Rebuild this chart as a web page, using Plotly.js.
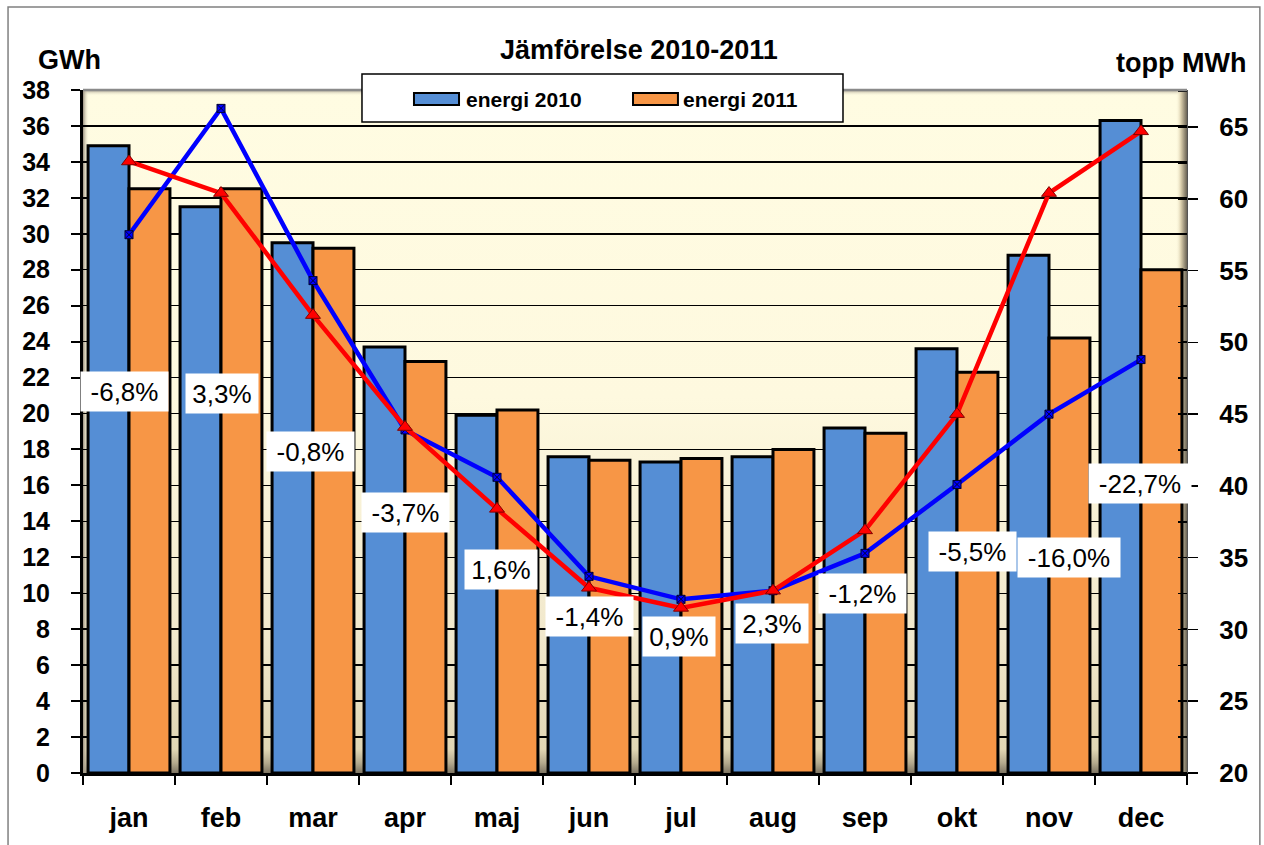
<!DOCTYPE html>
<html>
<head>
<meta charset="utf-8">
<script src="https://cdn.plot.ly/plotly-3.0.1.min.js"></script>
<style>html,body{margin:0;padding:0;background:#fff;}#chart{width:1264px;height:845px;}</style>
</head>
<body>
<div id="chart"></div>
<script>
// ---- data ----
const months = ["jan","feb","mar","apr","maj","jun","jul","aug","sep","okt","nov","dec"];
const energi2010 = [34.9, 31.5, 29.5, 23.7, 19.9, 17.6, 17.3, 17.6, 19.2, 23.6, 28.8, 36.3];
const energi2011 = [32.5, 32.5, 29.2, 22.9, 20.2, 17.4, 17.5, 18.0, 18.9, 22.3, 24.2, 28.0];
const topp2010 = [57.5, 66.3, 54.3, 43.9, 40.6, 33.7, 32.1, 32.7, 35.3, 40.1, 45.0, 48.8];
const topp2011 = [62.6, 60.4, 51.9, 44.1, 38.4, 32.9, 31.5, 32.7, 36.9, 45.0, 60.4, 64.7];
const changeLabels = ["-6,8%","3,3%","-0,8%","-3,7%","1,6%","-1,4%","0,9%","2,3%","-1,2%","-5,5%","-16,0%","-22,7%"];
// label placement (layout only)
const labelY = [21.2, 21.1, 17.9, 14.5, 11.3, 8.7, 7.6, 8.3, 10.0, 12.3, 12.0, 16.1];
const labelXShift = [-5, 1, -3, 0, 4, 0, -2, -1, -3, 15, 20, -1];

const FONT = "Liberation Sans, Arial, Helvetica, sans-serif";

const svg = "<svg xmlns='http://www.w3.org/2000/svg' width='1104' height='683' viewBox='0 0 1104 683' preserveAspectRatio='none'>" +
  "<defs>" +
  "<linearGradient id='v' x1='0' y1='0' x2='0' y2='1'>" +
  "<stop offset='0' stop-color='#FFFCE2'/><stop offset='0.45' stop-color='#FEF9DF'/>" +
  "<stop offset='0.8' stop-color='#F1E8CC'/><stop offset='0.965' stop-color='#E1D6B4'/>" +
  "<stop offset='0.985' stop-color='#B5AA8E'/><stop offset='1' stop-color='#7E7563'/></linearGradient>" +
  "<linearGradient id='r' x1='0' y1='0' x2='1' y2='0'>" +
  "<stop offset='0' stop-color='#FDF8DE' stop-opacity='0'/><stop offset='0.45' stop-color='#D9CDAB'/><stop offset='1' stop-color='#6A6355'/></linearGradient>" +
  "<linearGradient id='l' x1='0' y1='0' x2='1' y2='0'>" +
  "<stop offset='0' stop-color='#9A9080'/><stop offset='1' stop-color='#FDF8DE' stop-opacity='0'/></linearGradient>" +
  "<linearGradient id='t' x1='0' y1='0' x2='0' y2='1'>" +
  "<stop offset='0' stop-color='#A8A090'/><stop offset='1' stop-color='#FFFCE2' stop-opacity='0'/></linearGradient>" +
  "</defs>" +
  "<rect width='1104' height='683' fill='url(#v)'/>" +
  "<rect x='0' y='0' width='1104' height='6' fill='url(#t)'/>" +
  "<rect x='1093' y='0' width='11' height='683' fill='url(#r)'/>" +
  "<rect x='0' y='0' width='6' height='683' fill='url(#l)'/>" +
  "</svg>";
const bgURI = "data:image/svg+xml;charset=utf-8," + encodeURIComponent(svg);

const traces = [
  {type:"bar", name:"energi 2010", x:months, y:energi2010,
   marker:{color:"#558ED5", line:{color:"#000", width:3}}, hoverinfo:"y"},
  {type:"bar", name:"energi 2011", x:months, y:energi2011,
   marker:{color:"#F79646", line:{color:"#000", width:3}}, hoverinfo:"y"},
  {type:"scatter", mode:"lines+markers", name:"topp 2010", x:months, y:topp2010, yaxis:"y2",
   line:{color:"#0000FF", width:4.5},
   marker:{symbol:"square-x", size:8, color:"#0000FF", line:{color:"#000033", width:1}}},
  {type:"scatter", mode:"lines+markers", name:"topp 2011", x:months, y:topp2011, yaxis:"y2",
   line:{color:"#FF0000", width:4.5},
   marker:{symbol:"triangle-up", size:13, color:"#FF0000", line:{color:"#800000", width:1}}}
];

const annotations = changeLabels.map((t, i) => ({
  xref:"x", yref:"y", x:months[i], y:labelY[i], xshift:labelXShift[i],
  text:t, showarrow:false, bgcolor:"#FFFFFF", borderpad:0,
  width: 15*t.length + 12, height:39,
  font:{family:FONT, size:26, color:"#000"}
}));

// axis unit titles
annotations.push({xref:"paper", yref:"paper", x:-0.0118, y:1.044, text:"GWh", showarrow:false,
  xanchor:"center", yanchor:"middle", font:{family:FONT, size:27, color:"#000", weight:"bold"}});
annotations.push({xref:"paper", yref:"paper", x:0.9946, y:1.0395, text:"topp MWh", showarrow:false,
  xanchor:"center", yanchor:"middle", font:{family:FONT, size:27, color:"#000", weight:"bold"}});
// custom legend text
annotations.push({xref:"paper", yref:"paper", x:0.3455, y:0.9868, text:traces[0].name, showarrow:false,
  xanchor:"left", yanchor:"middle", font:{family:FONT, size:21, color:"#000", weight:"bold"}});
annotations.push({xref:"paper", yref:"paper", x:0.5415, y:0.9868, text:traces[1].name, showarrow:false,
  xanchor:"left", yanchor:"middle", font:{family:FONT, size:21, color:"#000", weight:"bold"}});

const shapes = [
  // outer frame
  {type:"rect", xref:"paper", yref:"paper", x0:-0.0679, x1:1.066, y0:-0.14, y1:1.1215,
   line:{color:"#808080", width:1.5}, fillcolor:"rgba(0,0,0,0)", layer:"below"},
  // top edge
  {type:"line", xref:"paper", yref:"paper", x0:0, x1:1, y0:1, y1:1, line:{color:"#8A8A8A", width:2.5}, layer:"above"},
  // legend box
  {type:"rect", xref:"paper", yref:"paper", x0:0.2527, x1:0.6884, y0:0.9531, y1:1.0234,
   line:{color:"#000", width:1.5}, fillcolor:"#FFFFFF", layer:"above"},
  {type:"rect", xref:"paper", yref:"paper", x0:0.2998, x1:0.3406, y0:0.9780, y1:0.9956,
   line:{color:"#000", width:2}, fillcolor:traces[0].marker.color, layer:"above"},
  {type:"rect", xref:"paper", yref:"paper", x0:0.4982, x1:0.5389, y0:0.9780, y1:0.9956,
   line:{color:"#000", width:2}, fillcolor:traces[1].marker.color, layer:"above"}
];

const tickFont = {family:FONT, size:25, color:"#000", weight:"bold"};

const layout = {
  width:1264, height:845,
  margin:{l:83, r:77, t:90, b:72, pad:0},
  paper_bgcolor:"#FFFFFF", plot_bgcolor:"rgba(0,0,0,0)",
  title:{text:"Jämförelse 2010-2011", x:0.5055, xref:"container", y:0.941, yref:"container",
         xanchor:"center", yanchor:"middle", font:{family:FONT, size:27, color:"#000", weight:"bold"}},
  showlegend:false,
  barmode:"group", bargap:0.11, bargroupgap:0,
  xaxis:{type:"category", range:[-0.5, 11.5], tickson:"boundaries", ticks:"outside", ticklen:9,
         tickwidth:2, tickcolor:"#000", showline:true, linewidth:3, linecolor:"#000",
         showgrid:false, zeroline:false, tickfont:{family:FONT, size:27, color:"#000", weight:"bold"},
         ticklabelstandoff:19, fixedrange:true},
  yaxis:{range:[0, 38], dtick:2, ticks:"outside", ticklen:9, tickwidth:2, tickcolor:"#000",
         showline:true, linewidth:3, linecolor:"#000", showgrid:true, gridcolor:"#000", gridwidth:1.5,
         zeroline:false, tickfont:tickFont, ticklabelstandoff:16, fixedrange:true},
  yaxis2:{overlaying:"y", side:"right", range:[20, 67.58], dtick:5, ticks:"outside", ticklen:10,
          tickwidth:1.5, tickcolor:"#000", showline:true, linewidth:1, linecolor:"#555",
          showgrid:false, zeroline:false, tickfont:{family:FONT, size:26, color:"#000", weight:"bold"},
          ticklabelstandoff:16,
          minor:{dtick:2.5, ticks:"inside", ticklen:9, tickwidth:1.5, tickcolor:"#000"}, fixedrange:true},
  images:[{source:bgURI, xref:"paper", yref:"paper", x:0, y:1, sizex:1, sizey:1,
           sizing:"stretch", xanchor:"left", yanchor:"top", layer:"below"}],
  shapes:shapes,
  annotations:annotations
};

Plotly.newPlot("chart", traces, layout, {displayModeBar:false, staticPlot:true});
</script>
</body>
</html>
